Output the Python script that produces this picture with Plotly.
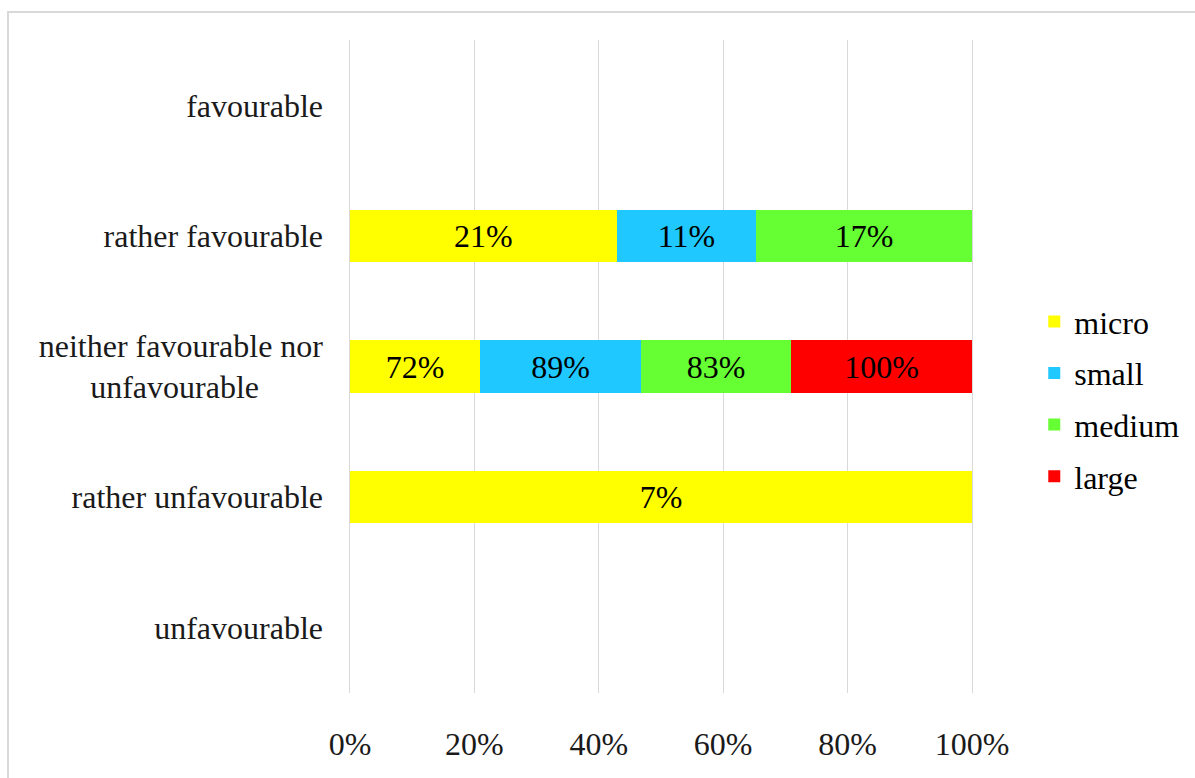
import plotly.graph_objects as go

categories = ["favourable", "rather favourable",
              "neither favourable nor<br>unfavourable" + "\u00a0" * 8,
              "rather unfavourable", "unfavourable"]
series_names = ["micro", "small", "medium", "large"]
micro = [None, 21, 72, 7, None]
small = [None, 11, 89, None, None]
medium = [None, 17, 83, None, None]
large = [None, None, 100, None, None]
colors = ["#FFFF00", "#1FC8FF", "#66FF33", "#FF0000"]
x_ticks = [0, 20, 40, 60, 80, 100]
x_tick_labels = ["0%", "20%", "40%", "60%", "80%", "100%"]

FONT = "Liberation Serif"
FS = 32

fig = go.Figure()
for name, vals, col in zip(series_names, [micro, small, medium, large], colors):
    fig.add_trace(go.Bar(
        y=categories, x=vals, name=name, orientation="h",
        marker=dict(color=col, line=dict(width=0)),
        text=[f"{v}%" if v is not None else "" for v in vals],
        textposition="inside", insidetextanchor="middle", textangle=0,
        constraintext="none",
        textfont=dict(family=FONT, size=FS, color="black"),
        legendgroup=name,
    ))

fig.update_layout(
    barmode="stack", barnorm="percent", bargap=0.6,
    width=1195, height=778,
    margin=dict(l=348, r=221, t=40, b=85),
    paper_bgcolor="white", plot_bgcolor="white",
    font=dict(family=FONT, size=FS, color="#1a1a1a"),
    showlegend=True,
    legend=dict(xref="container", yref="container",
                x=0.8655, y=0.487, xanchor="left", yanchor="middle",
                traceorder="grouped", tracegroupgap=7,
                font=dict(family=FONT, size=FS, color="black"),
                bgcolor="rgba(0,0,0,0)"),
    xaxis=dict(range=[-0.32, 100.32], tickvals=x_ticks, ticktext=x_tick_labels,
               showgrid=True, gridcolor="#D9D9D9", gridwidth=1,
               zeroline=False, showline=False, ticks="",
               ticklabelstandoff=29,
               tickfont=dict(family=FONT, size=FS, color="#1a1a1a")),
    yaxis=dict(categoryorder="array", categoryarray=categories,
               autorange="reversed", showgrid=False, zeroline=False,
               showline=False, ticks="", ticklabelstandoff=24,
               tickfont=dict(family=FONT, size=FS, color="#1a1a1a")),
    shapes=[dict(type="rect", xref="paper", yref="paper",
                 x0=(8 - 348) / 626, x1=(1200 - 348) / 626,
                 y0=(693 - 790) / 653, y1=1 + (40 - 12) / 653,
                 line=dict(color="#D9D9D9", width=2), fillcolor="rgba(0,0,0,0)",
                 layer="below")],
)

fig.write_html("out.html")
